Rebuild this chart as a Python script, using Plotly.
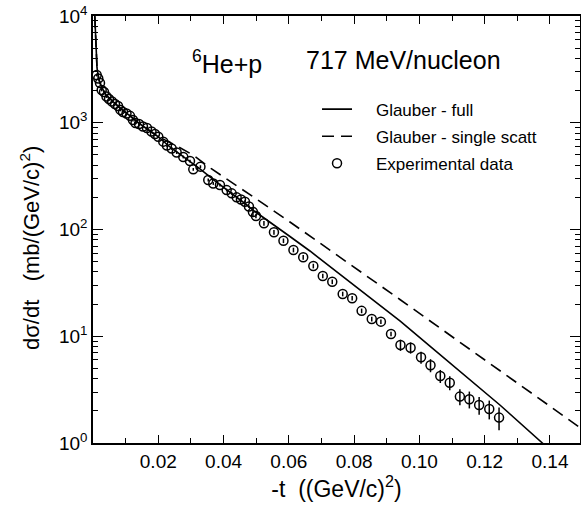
import plotly.graph_objects as go

# Experimental data: -t ((GeV/c)^2), dsigma/dt (mb/(GeV/c)^2), relative error (%)
t_exp = [0.00113, 0.00162, 0.00214, 0.00266, 0.00337, 0.00413, 0.0049, 0.00582, 0.00674, 0.00766,
         0.00842, 0.00919, 0.01026, 0.01133, 0.01225, 0.01302, 0.01409, 0.01531, 0.01654, 0.01792,
         0.01899, 0.0200, 0.02153, 0.02266, 0.0241, 0.02564, 0.02766, 0.02971, 0.03072, 0.03292,
         0.03531, 0.03685, 0.0389, 0.04095, 0.04248, 0.04401, 0.04533, 0.04655, 0.04778, 0.049,
         0.04992, 0.05237, 0.05544, 0.05835, 0.06141, 0.0644, 0.0675, 0.0704, 0.0733, 0.0765,
         0.0794, 0.0823, 0.0854, 0.0882, 0.0913, 0.0942, 0.0973, 0.1005, 0.1034, 0.1064,
         0.1093, 0.1124, 0.1153, 0.1183, 0.1214, 0.1244]
ds_exp = [2800, 2600, 2360, 2030, 1940, 1760, 1670, 1580, 1500, 1435,
          1320, 1260, 1220, 1160, 1060, 995, 973, 922, 893, 828,
          785, 740, 665, 612, 574, 526, 478, 438, 366, 388,
          291, 270, 261, 234, 218, 200, 191, 182, 164, 146,
          134, 114.3, 94.2, 78.5, 64.3, 54.9, 45.5, 36.7, 32.4, 24.9,
          22.7, 17.3, 14.5, 13.7, 10.5, 8.28, 7.81, 6.35, 5.35, 4.24,
          3.67, 2.72, 2.57, 2.27, 2.08, 1.73]
err_pct = [3, 3, 3, 3, 3, 3, 3, 3, 3, 3,
           3, 3, 3, 3, 3, 3, 3, 3, 3, 3,
           3, 3, 3, 3, 3, 3, 3, 3, 3, 3,
           3, 3, 3, 3, 3, 3, 3, 3, 3, 10,
           5, 5, 5, 5, 5, 5, 5, 5, 5, 5,
           5, 5, 5, 5, 5, 12, 12, 13, 14, 14,
           15, 17, 18, 19, 20, 24]

# Glauber - full
t_full = [0.0003, 0.00077, 0.00123, 0.00184, 0.00276, 0.00398, 0.00582, 0.00827, 0.01133, 0.0144,
          0.01746, 0.0199, 0.02358, 0.02818, 0.03277, 0.03737, 0.04196, 0.04594, 0.04962, 0.05421,
          0.06034, 0.06646, 0.07259, 0.08178, 0.09403, 0.10322, 0.1124, 0.12466, 0.13767, 0.1415]
ds_full = [15000, 5960, 3260, 2515, 2116, 1820, 1598, 1375, 1157, 973,
           837, 743, 593, 468, 369, 285, 224.5, 181, 147.4, 117.6,
           86.0, 62.9, 45.0, 27.7, 13.9, 8.10, 4.73, 2.27, 1.0, 0.772]

# Glauber - single scattering
t_single = [0.0003, 0.00077, 0.00123, 0.00184, 0.00276, 0.00398, 0.00582, 0.00827, 0.01133, 0.0144,
            0.01746, 0.02052, 0.02511, 0.03063, 0.03614, 0.04012, 0.04472, 0.04962, 0.06034, 0.07259,
            0.08178, 0.09403, 0.1093, 0.12466, 0.13691, 0.14916, 0.1522]
ds_single = [15000, 5960, 3260, 2515, 2116, 1820, 1598, 1375, 1157, 973,
             837, 727.5, 619, 499, 373, 310, 250, 197.3, 117.6, 64.3,
             40.9, 22.1, 10.27, 4.78, 2.58, 1.397, 1.2]

x_ticks = [0.02, 0.04, 0.06, 0.08, 0.10, 0.12, 0.14]
x_labels = ["0.02", "0.04", "0.06", "0.08", "0.10", "0.12", "0.14"]
y_ticks = [1, 10, 100, 1000, 10000]
y_labels = ["10<sup>0</sup>", "10<sup>1</sup>", "10<sup>2</sup>", "10<sup>3</sup>", "10<sup>4</sup>"]

err_up = [v * p / 100 for v, p in zip(ds_exp, err_pct)]

FONT = "Liberation Sans, Arial, Helvetica, sans-serif"
GAP = "&nbsp;&nbsp;&nbsp;&nbsp;"

fig = go.Figure()
fig.add_trace(go.Scatter(x=t_full, y=ds_full, mode="lines", name=GAP + "Glauber - full",
                         legendgroup="a", line=dict(color="black", width=1.6)))
fig.add_trace(go.Scatter(x=t_single, y=ds_single, mode="lines",
                         name=GAP + "Glauber - single scatt",
                         legendgroup="b", line=dict(color="black", width=1.6, dash="12px,7px")))
fig.add_trace(go.Scatter(x=t_exp, y=ds_exp, mode="markers", name=GAP + "Experimental data",
                         legendgroup="c",
                         marker=dict(symbol="circle-open", size=9, color="black",
                                     line=dict(color="black", width=1.5)),
                         error_y=dict(type="data", array=err_up, visible=True,
                                      color="black", thickness=1.5, width=0)))

minor_y = [m * 10 ** k for k in range(0, 4) for m in range(2, 10)]

fig.update_layout(
    width=581, height=507,
    margin=dict(l=93, r=1, t=16, b=64),
    paper_bgcolor="white", plot_bgcolor="white",
    font=dict(family=FONT, color="black"),
    showlegend=True,
    legend=dict(x=0.46, y=0.823, xanchor="left", yanchor="top",
                font=dict(size=17, family=FONT), bgcolor="rgba(0,0,0,0)",
                tracegroupgap=2, itemwidth=30),
    xaxis=dict(range=[0, 0.1492], showgrid=False, zeroline=False, automargin=False,
               showline=True, linecolor="black", linewidth=1.5, mirror="ticks",
               ticks="inside", ticklen=8, tickwidth=1.3, tickcolor="black",
               tickvals=x_ticks, ticktext=x_labels, ticklabeloverflow="allow",
               tickfont=dict(size=19, family=FONT),
               minor=dict(ticks="inside", ticklen=5, tickwidth=1.3, tickcolor="black",
                          dtick=0.01, tick0=0, showgrid=False),
               title=dict(text="-t&nbsp;&nbsp;((GeV/c)<sup>2</sup>)",
                          font=dict(size=23, family=FONT), standoff=10)),
    yaxis=dict(type="log", range=[0, 4], showgrid=False, zeroline=False, automargin=False,
               showline=True, linecolor="black", linewidth=1.5, mirror="ticks",
               ticks="inside", ticklen=10, tickwidth=1.3, tickcolor="black",
               tickvals=y_ticks, ticktext=y_labels, ticklabeloverflow="allow",
               tickfont=dict(size=19, family=FONT),
               minor=dict(ticks="inside", ticklen=5, tickwidth=1.3, tickcolor="black",
                          tickvals=minor_y, showgrid=False),
               title=dict(text="dσ/dt&nbsp;&nbsp;&nbsp;(mb/(GeV/c)<sup>2</sup>)"
                               "&nbsp;&nbsp;&nbsp;&nbsp;&nbsp;&nbsp;",
                          font=dict(size=22, family=FONT), standoff=13)),
    annotations=[
        dict(text="<sup>6</sup>He+p", x=0.199, y=0.935, xref="paper", yref="paper",
             xanchor="left", showarrow=False, font=dict(size=25, family=FONT)),
        dict(text="717 MeV/nucleon", x=0.637, y=0.935, xref="paper", yref="paper",
             showarrow=False, font=dict(size=25, family=FONT)),
    ],
)

fig.write_html(
    "out.html",
    config={"displayModeBar": False},
    post_script="document.documentElement.style.overflow='hidden';"
                "document.body.style.overflow='hidden';"
                "document.body.style.margin='0';",
)
